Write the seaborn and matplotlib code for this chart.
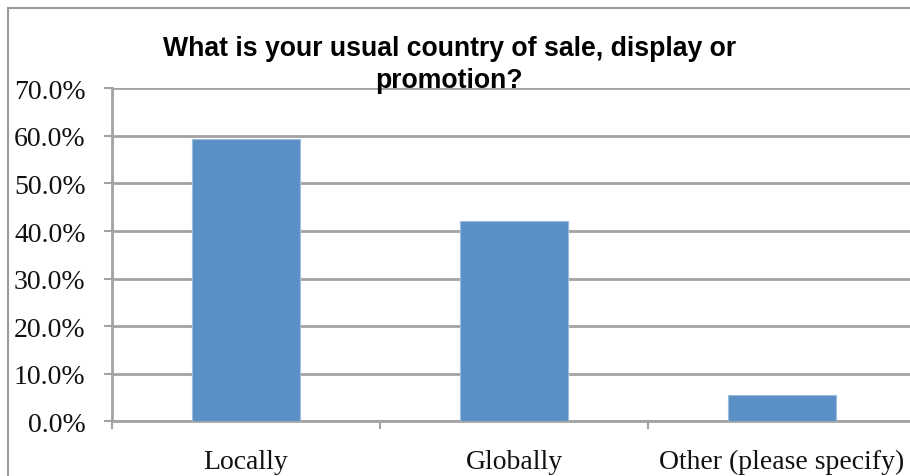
import matplotlib
matplotlib.use("Agg")
import matplotlib.pyplot as plt
from matplotlib.patches import Rectangle
from matplotlib.ticker import FuncFormatter, MultipleLocator, FixedLocator
import seaborn as sns
import pandas as pd

# Survey answers and share of respondents (%)
categories = ["Locally", "Globally", "Other (please specify)"]
shares = [59.3, 42.2, 5.5]
title_lines = ["What is your usual country of sale, display or", "promotion?"]

sns.set_theme(style="white")
plt.rcParams["font.family"] = ["Liberation Serif", "DejaVu Serif"]

W, H = 910, 477
fig = plt.figure(figsize=(W / 100, H / 100), dpi=100)

def px(x, y):
    return x / W, 1 - y / H

left, right, top, bottom = 112, 916, 89.3, 422.3
ax = fig.add_axes([left / W, 1 - bottom / H, (right - left) / W, (bottom - top) / H])

df = pd.DataFrame({"answer": categories, "share": shares})
sns.barplot(data=df, x="answer", y="share", color="#5B90C6", width=0.4,
            edgecolor="#9CBCE0", linewidth=0.8, saturation=1, ax=ax, zorder=3)

grid = "#A3A3A3"
ax.set_xlim(-0.5, 2.5)
ax.set_ylim(0, 70)
ax.yaxis.set_major_locator(MultipleLocator(10))
ax.yaxis.set_major_formatter(FuncFormatter(lambda v, _: f"{v:.1f}%"))
ax.grid(axis="y", color=grid, linewidth=2, zorder=0)
ax.set_axisbelow(True)
ax.set_xlabel("")
ax.set_ylabel("")

for side in ["top", "right"]:
    ax.spines[side].set_visible(False)
for side in ["left", "bottom"]:
    ax.spines[side].set_color(grid)
    ax.spines[side].set_linewidth(2)

ax.tick_params(axis="y", which="major", length=6, width=1.5, color=grid,
               pad=13, labelsize=20, labelcolor="#111111", left=True)
ax.tick_params(axis="x", which="major", length=0, pad=20, labelsize=20,
               labelcolor="#111111")
ax.xaxis.set_minor_locator(FixedLocator([-0.5, 0.5, 1.5]))
ax.tick_params(axis="x", which="minor", length=6, width=1.5, color=grid, bottom=True)

# Chart title, two lines
title_font = dict(fontsize=19.2, fontweight="bold",
                  family=["Liberation Sans", "DejaVu Sans"], color="#000000")
fig.text(*px(449.5, 56.5), title_lines[0], ha="center", va="baseline", **title_font)
fig.text(*px(449, 87.5), title_lines[1], ha="center", va="baseline", zorder=5,
         **title_font)

# Chart frame
fig.patches.append(Rectangle(px(8, 500), (W + 20) / W, 491 / H, transform=fig.transFigure,
                             fill=False, edgecolor="#9A9A9A", linewidth=1.5))

fig.savefig("out.png", dpi=100)
